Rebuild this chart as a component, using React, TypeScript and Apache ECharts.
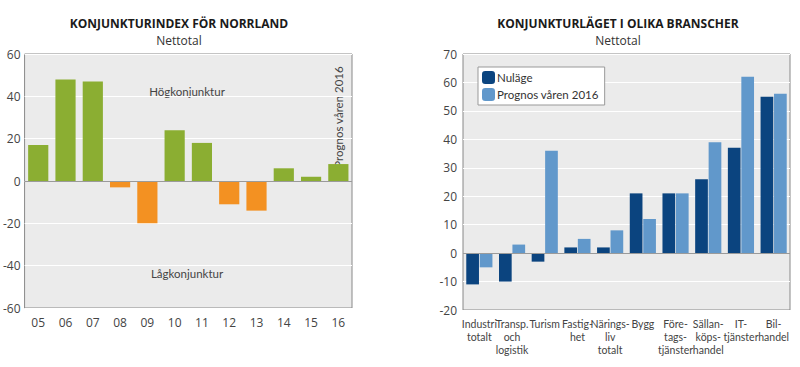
import React, { useEffect, useRef } from "react";
import * as echarts from "echarts";

const yearLabels = ["05", "06", "07", "08", "09", "10", "11", "12", "13", "14", "15", "16"];
const norrlandIndex = [17, 48, 47, -3, -20, 24, 18, -11, -14, 6, 2, 8];

const branchCategories = [
  "Industri\ntotalt",
  "Transp.\noch\nlogistik",
  "Turism",
  "Fastig-\nhet",
  "Närings-\nliv\ntotalt",
  "Bygg",
  "Före-\ntags-\ntjänster",
  "Sällan-\nköps-\nhandel",
  "IT-\ntjänster",
  "Bil-\nhandel",
];
const nulage = [-11, -10, -3, 2, 2, 21, 21, 26, 37, 55];
const prognos = [-5, 3, 36, 5, 8, 12, 21, 39, 62, 56];

const FONT = "Open Sans";
const NARROW = "Lato";
const GREEN = "#8bae32";
const ORANGE = "#f39122";
const DARK = "#0b447f";
const LIGHT = "#6198cb";

export default function App() {
  const ref = useRef<HTMLDivElement>(null);
  useEffect(() => {
    document.body.style.margin = "0";
    const chart = echarts.init(ref.current!, null, { renderer: "svg" });
    const zeroLine = {
      silent: true,
      symbol: "none",
      label: { show: false },
      lineStyle: { color: "#9a9a9a", width: 1, type: "solid" },
      data: [{ yAxis: 0 }],
    };
    const axisLabelStyle = { color: "#444", fontFamily: FONT, fontSize: 12 };
    const mainTitle = {
      top: 17,
      textAlign: "center",
      padding: 0,
      textStyle: { fontFamily: FONT, fontSize: 12, fontWeight: "bold", color: "#1a1a1a", lineHeight: 13 },
    };
    const subTitle = {
      top: 34,
      textAlign: "center",
      padding: 0,
      textStyle: { fontFamily: FONT, fontSize: 12, fontWeight: "normal", color: "#333", lineHeight: 13 },
    };
    chart.setOption({
      animation: false,
      backgroundColor: "#fff",
      title: [
        { ...mainTitle, text: "KONJUNKTURINDEX FÖR NORRLAND", left: 179 },
        { ...subTitle, text: "Nettotal", left: 179 },
        { ...mainTitle, text: "KONJUNKTURLÄGET I OLIKA BRANSCHER", left: 618 },
        { ...subTitle, text: "Nettotal", left: 618 },
      ],
      legend: {
        data: ["Nuläge", "Prognos våren 2016"],
        orient: "vertical",
        left: 478,
        top: 67,
        itemWidth: 13,
        itemHeight: 13,
        itemGap: 4,
        padding: [4, 6, 4, 4],
        backgroundColor: "#fff",
        borderColor: "#999",
        borderWidth: 1,
        borderRadius: 0,
        textStyle: { fontFamily: NARROW, fontSize: 11.5, color: "#333", padding: [0, 0, 0, -3] },
      },
      grid: [
        {
          left: 24, top: 54, width: 328, height: 254,
          show: true, backgroundColor: "#ebebeb", borderColor: "#888", borderWidth: 1,
        },
        {
          left: 463, top: 54, width: 327, height: 256,
          show: true, backgroundColor: "#ebebeb", borderColor: "#888", borderWidth: 1,
        },
      ],
      xAxis: [
        {
          type: "category",
          gridIndex: 0,
          data: yearLabels,
          axisLine: { show: false },
          axisTick: { show: false },
          axisLabel: { ...axisLabelStyle, margin: 8 },
        },
        {
          type: "category",
          gridIndex: 1,
          data: branchCategories,
          axisLine: { show: false },
          axisTick: { show: false },
          axisLabel: { ...axisLabelStyle, fontFamily: NARROW, fontSize: 10.5, lineHeight: 13, margin: 7, interval: 0 },
        },
      ],
      yAxis: [
        {
          type: "value",
          gridIndex: 0,
          min: -60,
          max: 60,
          interval: 20,
          axisLine: { show: false },
          axisTick: { show: false },
          splitLine: { lineStyle: { color: "#fff", width: 1 } },
          axisLabel: { ...axisLabelStyle, margin: 4 },
        },
        {
          type: "value",
          gridIndex: 1,
          min: -20,
          max: 70,
          interval: 10,
          axisLine: { show: false },
          axisTick: { show: false },
          splitLine: { lineStyle: { color: "#fff", width: 1 } },
          axisLabel: { ...axisLabelStyle, margin: 6 },
        },
      ],
      series: [
        {
          type: "bar",
          xAxisIndex: 0,
          yAxisIndex: 0,
          data: norrlandIndex,
          barWidth: "74%",
          itemStyle: { color: (p: any) => (p.value >= 0 ? GREEN : ORANGE) },
          markLine: zeroLine,
        },
        {
          name: "Nuläge",
          type: "bar",
          xAxisIndex: 1,
          yAxisIndex: 1,
          data: nulage,
          barCategoryGap: "20%",
          barGap: "6%",
          itemStyle: { color: DARK },
          markLine: zeroLine,
        },
        {
          name: "Prognos våren 2016",
          type: "bar",
          xAxisIndex: 1,
          yAxisIndex: 1,
          data: prognos,
          barCategoryGap: "20%",
          barGap: "6%",
          itemStyle: { color: LIGHT },
        },
      ],
      graphic: [
        {
          type: "text",
          x: 187,
          y: 91,
          style: {
            text: "Högkonjunktur",
            fontFamily: NARROW,
            fontSize: 11.5,
            fill: "#444",
            align: "center",
            verticalAlign: "middle",
          },
        },
        {
          type: "text",
          x: 187,
          y: 273,
          style: {
            text: "Lågkonjunktur",
            fontFamily: NARROW,
            fontSize: 11.5,
            fill: "#444",
            align: "center",
            verticalAlign: "middle",
          },
        },
        {
          type: "text",
          x: 338,
          y: 117,
          rotation: Math.PI / 2,
          style: {
            text: "Prognos våren 2016",
            fontFamily: NARROW,
            fontSize: 11.5,
            fill: "#444",
            align: "center",
            verticalAlign: "middle",
          },
        },
      ],
    });
    return () => chart.dispose();
  }, []);
  return (
    <div
      ref={ref}
      style={{ position: "absolute", left: 0, top: 0, width: 800, height: 367 }}
    />
  );
}
